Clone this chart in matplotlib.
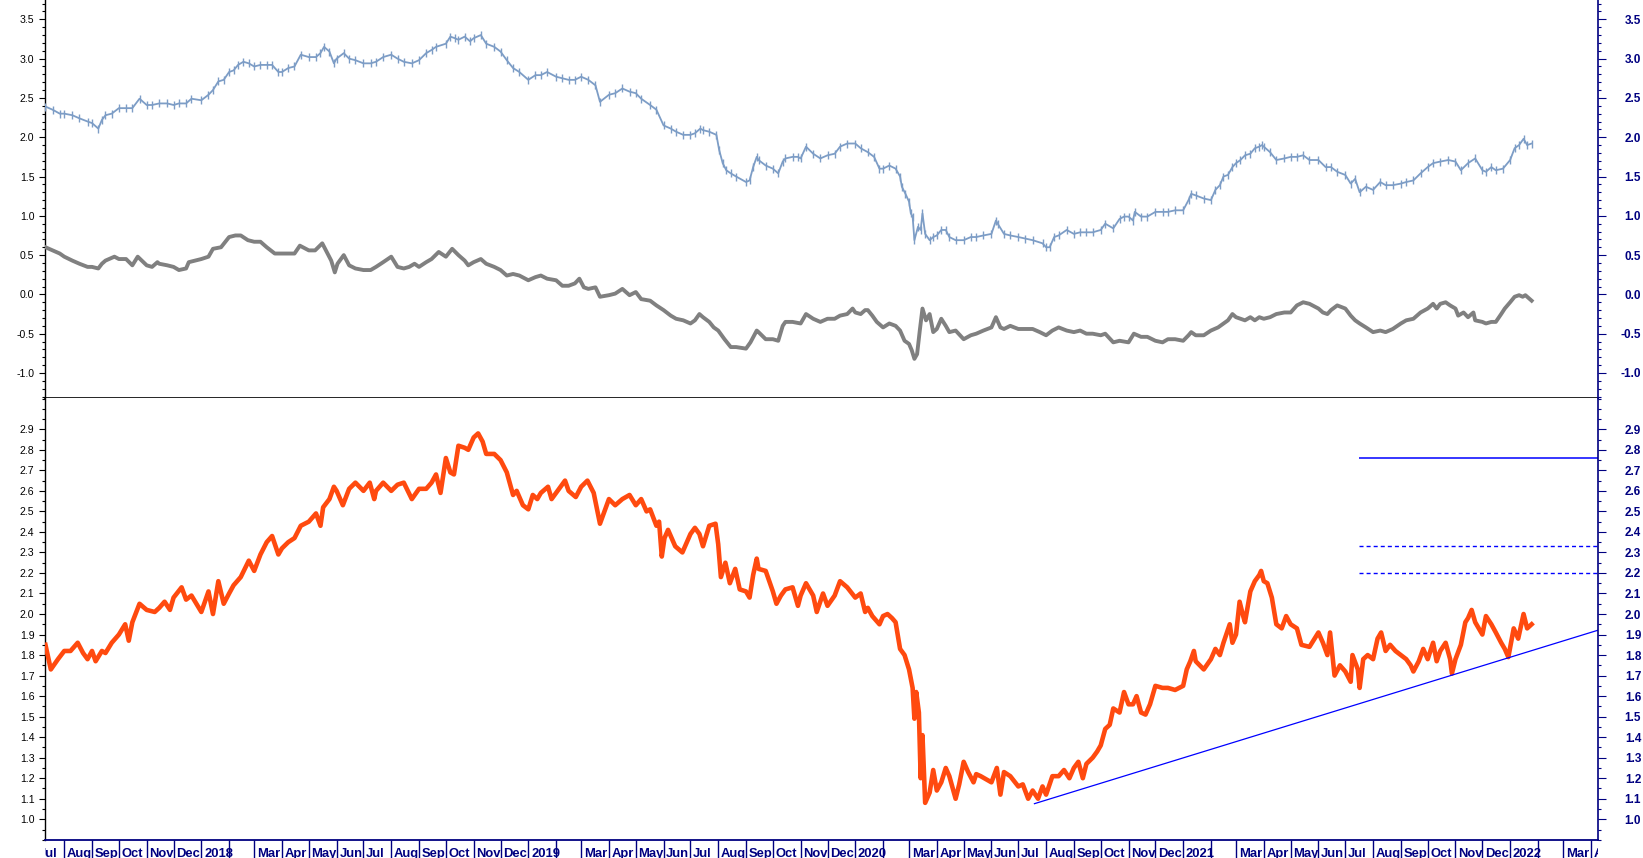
import numpy as np
import pandas as pd
import matplotlib
matplotlib.use("Agg")
import matplotlib.pyplot as plt
import matplotlib.transforms as mtransforms
from matplotlib.ticker import MultipleLocator

plt.rcParams['font.family'] = ['Liberation Sans', 'DejaVu Sans']

# ---------------- data ----------------
# upper panel, blue high/low bars (mid values)
blue_dates = [
    "2017-07-11", "2017-07-19", "2017-07-27", "2017-08-01", "2017-08-10", "2017-08-18", "2017-08-27", "2017-09-01",
    "2017-09-08", "2017-09-12", "2017-09-16", "2017-09-23", "2017-10-01", "2017-10-09", "2017-10-16", "2017-10-24",
    "2017-11-01", "2017-11-07", "2017-11-15", "2017-11-24", "2017-12-01", "2017-12-07", "2017-12-15", "2017-12-21",
    "2018-01-01", "2018-01-09", "2018-01-14", "2018-01-20", "2018-01-26", "2018-02-01", "2018-02-06", "2018-02-11",
    "2018-02-17", "2018-02-23", "2018-03-01", "2018-03-08", "2018-03-15", "2018-03-21", "2018-03-28", "2018-04-01",
    "2018-04-08", "2018-04-15", "2018-04-22", "2018-05-01", "2018-05-09", "2018-05-14", "2018-05-18", "2018-05-24",
    "2018-05-29", "2018-06-01", "2018-06-09", "2018-06-15", "2018-06-22", "2018-07-01", "2018-07-09", "2018-07-15",
    "2018-07-23", "2018-08-01", "2018-08-08", "2018-08-15", "2018-08-24", "2018-09-01", "2018-09-09", "2018-09-15",
    "2018-09-20", "2018-10-01", "2018-10-06", "2018-10-11", "2018-10-15", "2018-10-22", "2018-10-28", "2018-11-01",
    "2018-11-09", "2018-11-15", "2018-11-24", "2018-12-01", "2018-12-08", "2018-12-15", "2018-12-22", "2019-01-01",
    "2019-01-09", "2019-01-15", "2019-01-22", "2019-02-01", "2019-02-08", "2019-02-15", "2019-02-22", "2019-03-01",
    "2019-03-09", "2019-03-17", "2019-03-22", "2019-04-01", "2019-04-08", "2019-04-16", "2019-04-24", "2019-05-01",
    "2019-05-07", "2019-05-17", "2019-05-24", "2019-06-01", "2019-06-09", "2019-06-15", "2019-06-23", "2019-07-01",
    "2019-07-06", "2019-07-12", "2019-07-15", "2019-07-22", "2019-07-30", "2019-08-02", "2019-08-06", "2019-08-10",
    "2019-08-15", "2019-08-21", "2019-09-01", "2019-09-05", "2019-09-09", "2019-09-13", "2019-09-15", "2019-09-23",
    "2019-10-01", "2019-10-07", "2019-10-12", "2019-10-15", "2019-10-23", "2019-10-29", "2019-11-01", "2019-11-07",
    "2019-11-15", "2019-11-23", "2019-12-01", "2019-12-09", "2019-12-15", "2019-12-23", "2020-01-01", "2020-01-07",
    "2020-01-15", "2020-01-22", "2020-01-28", "2020-02-01", "2020-02-08", "2020-02-15", "2020-02-20", "2020-02-22",
    "2020-02-26", "2020-03-01", "2020-03-03", "2020-03-05", "2020-03-07", "2020-03-11", "2020-03-14", "2020-03-16",
    "2020-03-19", "2020-03-24", "2020-03-28", "2020-04-01", "2020-04-06", "2020-04-11", "2020-04-15", "2020-04-22",
    "2020-05-01", "2020-05-09", "2020-05-15", "2020-05-23", "2020-06-01", "2020-06-06", "2020-06-08", "2020-06-15",
    "2020-06-22", "2020-07-01", "2020-07-09", "2020-07-17", "2020-07-28", "2020-08-01", "2020-08-05", "2020-08-10",
    "2020-08-15", "2020-08-24", "2020-09-01", "2020-09-08", "2020-09-15", "2020-09-22", "2020-10-01", "2020-10-06",
    "2020-10-15", "2020-10-22", "2020-10-27", "2020-11-01", "2020-11-06", "2020-11-08", "2020-11-15", "2020-11-22",
    "2020-12-01", "2020-12-09", "2020-12-15", "2020-12-23", "2021-01-01", "2021-01-07", "2021-01-10", "2021-01-15",
    "2021-01-24", "2021-02-01", "2021-02-06", "2021-02-11", "2021-02-15", "2021-02-20", "2021-02-25", "2021-03-01",
    "2021-03-06", "2021-03-11", "2021-03-17", "2021-03-22", "2021-03-27", "2021-03-30", "2021-04-01", "2021-04-08",
    "2021-04-15", "2021-04-24", "2021-05-01", "2021-05-08", "2021-05-15", "2021-05-22", "2021-06-01", "2021-06-09",
    "2021-06-15", "2021-06-22", "2021-07-01", "2021-07-07", "2021-07-12", "2021-07-17", "2021-07-24", "2021-08-01",
    "2021-08-09", "2021-08-15", "2021-08-23", "2021-09-01", "2021-09-07", "2021-09-15", "2021-09-23", "2021-10-01",
    "2021-10-07", "2021-10-15", "2021-10-24", "2021-11-01", "2021-11-07", "2021-11-15", "2021-11-23", "2021-12-01",
    "2021-12-05", "2021-12-11", "2021-12-16", "2021-12-24", "2022-01-01", "2022-01-06", "2022-01-11", "2022-01-16",
    "2022-01-20", "2022-01-25",
]
blue_vals = [
    2.39, 2.35, 2.30, 2.30, 2.28, 2.24, 2.20, 2.18, 2.11, 2.22, 2.28, 2.30, 2.37, 2.37, 2.37, 2.49,
    2.41, 2.41, 2.43, 2.43, 2.41, 2.43, 2.43, 2.49, 2.47, 2.54, 2.60, 2.71, 2.73, 2.83, 2.85, 2.92,
    2.96, 2.94, 2.90, 2.92, 2.92, 2.92, 2.83, 2.83, 2.88, 2.90, 3.05, 3.02, 3.02, 3.07, 3.15, 3.09,
    2.94, 3.00, 3.07, 3.00, 2.98, 2.94, 2.94, 2.96, 3.02, 3.05, 3.00, 2.96, 2.94, 2.98, 3.07, 3.11,
    3.15, 3.19, 3.28, 3.26, 3.24, 3.28, 3.22, 3.26, 3.30, 3.19, 3.15, 3.09, 2.98, 2.88, 2.83, 2.73,
    2.79, 2.79, 2.83, 2.77, 2.75, 2.73, 2.73, 2.77, 2.73, 2.66, 2.45, 2.54, 2.56, 2.62, 2.58, 2.56,
    2.49, 2.41, 2.35, 2.15, 2.11, 2.07, 2.03, 2.03, 2.05, 2.11, 2.09, 2.07, 2.03, 1.84, 1.67, 1.58,
    1.54, 1.50, 1.43, 1.45, 1.62, 1.75, 1.71, 1.64, 1.60, 1.54, 1.69, 1.73, 1.75, 1.75, 1.73, 1.88,
    1.79, 1.73, 1.77, 1.79, 1.88, 1.92, 1.92, 1.86, 1.81, 1.75, 1.60, 1.60, 1.64, 1.60, 1.50, 1.37,
    1.28, 1.18, 1.03, 0.99, 0.69, 0.86, 0.82, 1.03, 0.77, 0.69, 0.73, 0.75, 0.82, 0.82, 0.73, 0.69,
    0.69, 0.73, 0.73, 0.75, 0.77, 0.94, 0.90, 0.77, 0.75, 0.73, 0.71, 0.69, 0.65, 0.60, 0.60, 0.73,
    0.75, 0.82, 0.77, 0.79, 0.79, 0.79, 0.82, 0.90, 0.84, 0.96, 0.99, 0.99, 0.94, 1.05, 0.99, 0.99,
    1.05, 1.05, 1.05, 1.07, 1.07, 1.20, 1.28, 1.26, 1.22, 1.20, 1.33, 1.39, 1.50, 1.52, 1.62, 1.67,
    1.71, 1.77, 1.79, 1.86, 1.88, 1.90, 1.88, 1.81, 1.71, 1.73, 1.75, 1.75, 1.77, 1.71, 1.71, 1.62,
    1.62, 1.56, 1.52, 1.41, 1.47, 1.30, 1.37, 1.33, 1.43, 1.39, 1.39, 1.41, 1.43, 1.45, 1.54, 1.62,
    1.67, 1.69, 1.71, 1.69, 1.58, 1.67, 1.73, 1.58, 1.56, 1.62, 1.58, 1.60, 1.71, 1.86, 1.90, 1.98,
    1.90, 1.92,
]

# upper panel, grey line
grey_dates = [
    "2017-07-11", "2017-07-19", "2017-07-27", "2017-08-01", "2017-08-10", "2017-08-18", "2017-08-27", "2017-09-01",
    "2017-09-08", "2017-09-12", "2017-09-16", "2017-09-26", "2017-10-01", "2017-10-09", "2017-10-16", "2017-10-22",
    "2017-11-01", "2017-11-07", "2017-11-13", "2017-11-15", "2017-11-24", "2017-12-01", "2017-12-07", "2017-12-15",
    "2017-12-18", "2018-01-01", "2018-01-09", "2018-01-14", "2018-01-23", "2018-02-01", "2018-02-08", "2018-02-14",
    "2018-02-22", "2018-03-01", "2018-03-08", "2018-03-15", "2018-03-24", "2018-04-01", "2018-04-08", "2018-04-15",
    "2018-04-21", "2018-05-01", "2018-05-08", "2018-05-16", "2018-05-21", "2018-05-26", "2018-05-30", "2018-06-02",
    "2018-06-09", "2018-06-15", "2018-06-22", "2018-07-01", "2018-07-09", "2018-07-15", "2018-07-23", "2018-08-01",
    "2018-08-08", "2018-08-15", "2018-08-21", "2018-08-27", "2018-09-01", "2018-09-09", "2018-09-15", "2018-09-23",
    "2018-10-01", "2018-10-08", "2018-10-15", "2018-10-22", "2018-10-26", "2018-11-01", "2018-11-09", "2018-11-15",
    "2018-11-24", "2018-12-01", "2018-12-08", "2018-12-15", "2018-12-22", "2019-01-01", "2019-01-09", "2019-01-15",
    "2019-01-22", "2019-02-01", "2019-02-08", "2019-02-15", "2019-02-22", "2019-02-27", "2019-03-04", "2019-03-09",
    "2019-03-17", "2019-03-22", "2019-04-01", "2019-04-08", "2019-04-16", "2019-04-24", "2019-05-01", "2019-05-07",
    "2019-05-17", "2019-05-24", "2019-06-01", "2019-06-09", "2019-06-15", "2019-06-23", "2019-07-01", "2019-07-06",
    "2019-07-11", "2019-07-15", "2019-07-22", "2019-07-27", "2019-08-01", "2019-08-08", "2019-08-15", "2019-08-21",
    "2019-09-01", "2019-09-06", "2019-09-13", "2019-09-15", "2019-09-23", "2019-10-01", "2019-10-07", "2019-10-12",
    "2019-10-15", "2019-10-23", "2019-11-01", "2019-11-07", "2019-11-15", "2019-11-23", "2019-12-01", "2019-12-09",
    "2019-12-15", "2019-12-23", "2019-12-29", "2020-01-01", "2020-01-07", "2020-01-12", "2020-01-15", "2020-01-20",
    "2020-01-25", "2020-02-01", "2020-02-08", "2020-02-15", "2020-02-20", "2020-02-25", "2020-03-01", "2020-03-04",
    "2020-03-07", "2020-03-10", "2020-03-13", "2020-03-16", "2020-03-20", "2020-03-24", "2020-03-28", "2020-04-01",
    "2020-04-06", "2020-04-11", "2020-04-15", "2020-04-22", "2020-05-01", "2020-05-09", "2020-05-15", "2020-05-23",
    "2020-06-01", "2020-06-06", "2020-06-11", "2020-06-15", "2020-06-22", "2020-07-01", "2020-07-09", "2020-07-17",
    "2020-07-25", "2020-08-01", "2020-08-08", "2020-08-15", "2020-08-24", "2020-09-01", "2020-09-08", "2020-09-15",
    "2020-09-22", "2020-10-01", "2020-10-06", "2020-10-15", "2020-10-22", "2020-11-01", "2020-11-07", "2020-11-15",
    "2020-11-22", "2020-12-01", "2020-12-09", "2020-12-15", "2020-12-23", "2021-01-01", "2021-01-07", "2021-01-10",
    "2021-01-15", "2021-01-24", "2021-02-01", "2021-02-09", "2021-02-15", "2021-02-20", "2021-02-25", "2021-03-01",
    "2021-03-06", "2021-03-11", "2021-03-17", "2021-03-22", "2021-03-27", "2021-04-01", "2021-04-08", "2021-04-15",
    "2021-04-24", "2021-05-01", "2021-05-08", "2021-05-15", "2021-05-22", "2021-06-01", "2021-06-06", "2021-06-11",
    "2021-06-15", "2021-06-22", "2021-07-01", "2021-07-07", "2021-07-12", "2021-07-17", "2021-07-24", "2021-08-01",
    "2021-08-09", "2021-08-15", "2021-08-23", "2021-09-01", "2021-09-07", "2021-09-15", "2021-09-23", "2021-10-01",
    "2021-10-07", "2021-10-11", "2021-10-15", "2021-10-21", "2021-10-26", "2021-11-01", "2021-11-04", "2021-11-10",
    "2021-11-15", "2021-11-21", "2021-11-23", "2021-12-01", "2021-12-05", "2021-12-11", "2021-12-16", "2021-12-22",
    "2021-12-26", "2022-01-01", "2022-01-06", "2022-01-11", "2022-01-15", "2022-01-18", "2022-01-25",
]
grey_vals = [
    0.60, 0.56, 0.52, 0.48, 0.43, 0.39, 0.35, 0.35, 0.33, 0.39, 0.43, 0.48, 0.45, 0.45, 0.37, 0.48,
    0.37, 0.35, 0.41, 0.39, 0.37, 0.35, 0.31, 0.33, 0.41, 0.45, 0.48, 0.58, 0.60, 0.73, 0.75, 0.75,
    0.69, 0.67, 0.67, 0.60, 0.52, 0.52, 0.52, 0.52, 0.62, 0.56, 0.56, 0.65, 0.54, 0.43, 0.28, 0.39,
    0.50, 0.37, 0.33, 0.31, 0.31, 0.35, 0.41, 0.48, 0.35, 0.33, 0.35, 0.39, 0.35, 0.41, 0.45, 0.54,
    0.48, 0.58, 0.50, 0.43, 0.37, 0.41, 0.45, 0.39, 0.35, 0.31, 0.24, 0.26, 0.24, 0.18, 0.22, 0.24,
    0.20, 0.18, 0.11, 0.11, 0.14, 0.20, 0.09, 0.07, 0.09, -0.03, -0.01, 0.01, 0.07, -0.01, 0.03, -0.06,
    -0.08, -0.14, -0.20, -0.27, -0.31, -0.33, -0.37, -0.33, -0.25, -0.29, -0.35, -0.42, -0.46, -0.57, -0.67, -0.67,
    -0.69, -0.61, -0.46, -0.48, -0.57, -0.57, -0.59, -0.40, -0.35, -0.35, -0.37, -0.25, -0.31, -0.35, -0.31, -0.31,
    -0.27, -0.25, -0.18, -0.23, -0.25, -0.20, -0.20, -0.27, -0.35, -0.42, -0.37, -0.40, -0.46, -0.59, -0.63, -0.71,
    -0.82, -0.76, -0.46, -0.18, -0.33, -0.25, -0.48, -0.44, -0.31, -0.40, -0.48, -0.46, -0.57, -0.52, -0.50, -0.46,
    -0.42, -0.29, -0.42, -0.44, -0.40, -0.44, -0.44, -0.44, -0.48, -0.52, -0.46, -0.42, -0.46, -0.48, -0.46, -0.50,
    -0.50, -0.52, -0.50, -0.61, -0.59, -0.61, -0.50, -0.54, -0.54, -0.59, -0.61, -0.57, -0.57, -0.59, -0.52, -0.48,
    -0.52, -0.52, -0.46, -0.42, -0.37, -0.33, -0.25, -0.29, -0.31, -0.33, -0.29, -0.33, -0.29, -0.31, -0.29, -0.25,
    -0.23, -0.23, -0.14, -0.10, -0.12, -0.18, -0.23, -0.25, -0.20, -0.14, -0.18, -0.27, -0.33, -0.37, -0.42, -0.48,
    -0.46, -0.48, -0.44, -0.37, -0.33, -0.31, -0.23, -0.18, -0.12, -0.18, -0.12, -0.10, -0.14, -0.18, -0.27, -0.23,
    -0.29, -0.23, -0.33, -0.35, -0.37, -0.35, -0.35, -0.25, -0.18, -0.10, -0.03, -0.01, -0.03, -0.01, -0.08,
]

# lower panel, orange line
orange_dates = [
    "2017-07-11", "2017-07-17", "2017-07-25", "2017-08-01", "2017-08-08", "2017-08-16", "2017-08-22", "2017-08-27",
    "2017-09-01", "2017-09-05", "2017-09-12", "2017-09-16", "2017-09-23", "2017-10-01", "2017-10-08", "2017-10-12",
    "2017-10-16", "2017-10-24", "2017-11-01", "2017-11-10", "2017-11-15", "2017-11-21", "2017-11-27", "2017-12-01",
    "2017-12-10", "2017-12-15", "2017-12-21", "2018-01-01", "2018-01-09", "2018-01-14", "2018-01-20", "2018-01-26",
    "2018-02-01", "2018-02-06", "2018-02-14", "2018-02-23", "2018-03-01", "2018-03-08", "2018-03-15", "2018-03-21",
    "2018-03-28", "2018-04-01", "2018-04-08", "2018-04-15", "2018-04-22", "2018-05-01", "2018-05-09", "2018-05-14",
    "2018-05-17", "2018-05-24", "2018-05-29", "2018-06-01", "2018-06-08", "2018-06-15", "2018-06-22", "2018-07-01",
    "2018-07-08", "2018-07-13", "2018-07-15", "2018-07-23", "2018-08-01", "2018-08-08", "2018-08-15", "2018-08-24",
    "2018-09-01", "2018-09-09", "2018-09-15", "2018-09-20", "2018-09-25", "2018-10-01", "2018-10-06", "2018-10-10",
    "2018-10-15", "2018-10-22", "2018-10-26", "2018-11-01", "2018-11-06", "2018-11-11", "2018-11-15", "2018-11-24",
    "2018-12-01", "2018-12-08", "2018-12-15", "2018-12-19", "2018-12-26", "2019-01-01", "2019-01-06", "2019-01-11",
    "2019-01-15", "2019-01-23", "2019-01-27", "2019-02-01", "2019-02-11", "2019-02-15", "2019-02-23", "2019-03-01",
    "2019-03-08", "2019-03-15", "2019-03-22", "2019-04-01", "2019-04-08", "2019-04-16", "2019-04-24", "2019-05-01",
    "2019-05-07", "2019-05-13", "2019-05-17", "2019-05-24", "2019-05-27", "2019-05-30", "2019-06-02", "2019-06-06",
    "2019-06-14", "2019-06-22", "2019-07-01", "2019-07-06", "2019-07-11", "2019-07-15", "2019-07-22", "2019-07-29",
    "2019-08-01", "2019-08-04", "2019-08-09", "2019-08-14", "2019-08-20", "2019-08-25", "2019-09-01", "2019-09-05",
    "2019-09-09", "2019-09-13", "2019-09-15", "2019-09-23", "2019-10-01", "2019-10-05", "2019-10-10", "2019-10-15",
    "2019-10-23", "2019-10-29", "2019-11-01", "2019-11-07", "2019-11-15", "2019-11-19", "2019-11-26", "2019-12-01",
    "2019-12-09", "2019-12-15", "2019-12-23", "2020-01-01", "2020-01-07", "2020-01-12", "2020-01-15", "2020-01-20",
    "2020-01-28", "2020-02-01", "2020-02-06", "2020-02-11", "2020-02-15", "2020-02-20", "2020-02-25", "2020-03-01",
    "2020-03-05", "2020-03-07", "2020-03-09", "2020-03-12", "2020-03-14", "2020-03-16", "2020-03-19", "2020-03-24",
    "2020-03-28", "2020-04-01", "2020-04-06", "2020-04-11", "2020-04-15", "2020-04-22", "2020-04-26", "2020-05-01",
    "2020-05-06", "2020-05-12", "2020-05-15", "2020-05-20", "2020-06-01", "2020-06-07", "2020-06-11", "2020-06-15",
    "2020-06-22", "2020-07-01", "2020-07-06", "2020-07-12", "2020-07-17", "2020-07-23", "2020-07-28", "2020-08-01",
    "2020-08-08", "2020-08-15", "2020-08-21", "2020-08-27", "2020-09-01", "2020-09-06", "2020-09-11", "2020-09-15",
    "2020-09-22", "2020-09-27", "2020-10-01", "2020-10-06", "2020-10-11", "2020-10-15", "2020-10-22", "2020-10-27",
    "2020-11-01", "2020-11-06", "2020-11-10", "2020-11-15", "2020-11-20", "2020-11-25", "2020-12-01", "2020-12-09",
    "2020-12-15", "2020-12-23", "2021-01-01", "2021-01-05", "2021-01-09", "2021-01-13", "2021-01-15", "2021-01-24",
    "2021-02-01", "2021-02-06", "2021-02-11", "2021-02-15", "2021-02-22", "2021-02-25", "2021-03-01", "2021-03-05",
    "2021-03-09", "2021-03-11", "2021-03-17", "2021-03-22", "2021-03-27", "2021-03-29", "2021-04-01", "2021-04-05",
    "2021-04-10", "2021-04-15", "2021-04-21", "2021-04-26", "2021-05-01", "2021-05-08", "2021-05-13", "2021-05-22",
    "2021-06-01", "2021-06-06", "2021-06-11", "2021-06-14", "2021-06-19", "2021-06-25", "2021-07-01", "2021-07-07",
    "2021-07-09", "2021-07-15", "2021-07-17", "2021-07-21", "2021-07-26", "2021-08-01", "2021-08-06", "2021-08-10",
    "2021-08-15", "2021-08-20", "2021-08-26", "2021-09-01", "2021-09-07", "2021-09-12", "2021-09-15", "2021-09-21",
    "2021-09-26", "2021-10-01", "2021-10-07", "2021-10-11", "2021-10-15", "2021-10-21", "2021-10-26", "2021-10-28",
    "2021-11-01", "2021-11-07", "2021-11-12", "2021-11-15", "2021-11-19", "2021-11-23", "2021-12-01", "2021-12-05",
    "2021-12-11", "2021-12-16", "2021-12-22", "2021-12-26", "2021-12-30", "2022-01-05", "2022-01-10", "2022-01-16",
    "2022-01-20", "2022-01-25",
]
orange_vals = [
    1.85, 1.73, 1.78, 1.82, 1.82, 1.86, 1.81, 1.78, 1.82, 1.77, 1.82, 1.81, 1.86, 1.90, 1.95, 1.87,
    1.96, 2.05, 2.02, 2.01, 2.03, 2.06, 2.02, 2.08, 2.13, 2.07, 2.09, 2.01, 2.11, 2.00, 2.16, 2.05,
    2.10, 2.14, 2.18, 2.26, 2.21, 2.29, 2.35, 2.38, 2.29, 2.32, 2.35, 2.37, 2.43, 2.45, 2.49, 2.43,
    2.52, 2.56, 2.62, 2.60, 2.53, 2.61, 2.64, 2.60, 2.64, 2.56, 2.60, 2.64, 2.60, 2.63, 2.64, 2.56,
    2.61, 2.61, 2.64, 2.68, 2.59, 2.76, 2.69, 2.68, 2.82, 2.81, 2.80, 2.86, 2.88, 2.84, 2.78, 2.78,
    2.75, 2.69, 2.58, 2.60, 2.53, 2.51, 2.58, 2.56, 2.59, 2.62, 2.56, 2.59, 2.65, 2.60, 2.57, 2.62,
    2.65, 2.59, 2.44, 2.56, 2.53, 2.56, 2.58, 2.53, 2.56, 2.50, 2.51, 2.43, 2.45, 2.28, 2.37, 2.41,
    2.33, 2.30, 2.39, 2.42, 2.39, 2.33, 2.43, 2.44, 2.34, 2.18, 2.25, 2.15, 2.22, 2.12, 2.11, 2.08,
    2.19, 2.27, 2.22, 2.21, 2.11, 2.05, 2.09, 2.12, 2.13, 2.04, 2.09, 2.15, 2.09, 2.01, 2.10, 2.04,
    2.09, 2.16, 2.13, 2.08, 2.10, 2.01, 2.03, 1.99, 1.95, 1.99, 2.00, 1.98, 1.96, 1.83, 1.80, 1.73,
    1.64, 1.49, 1.62, 1.52, 1.20, 1.41, 1.08, 1.13, 1.24, 1.14, 1.18, 1.25, 1.21, 1.10, 1.17, 1.28,
    1.23, 1.18, 1.22, 1.21, 1.18, 1.25, 1.12, 1.23, 1.21, 1.16, 1.17, 1.10, 1.14, 1.10, 1.16, 1.12,
    1.21, 1.21, 1.24, 1.20, 1.25, 1.28, 1.20, 1.27, 1.30, 1.33, 1.36, 1.44, 1.46, 1.54, 1.52, 1.62,
    1.56, 1.56, 1.60, 1.52, 1.51, 1.56, 1.65, 1.64, 1.64, 1.63, 1.65, 1.73, 1.77, 1.82, 1.77, 1.73,
    1.78, 1.83, 1.80, 1.86, 1.95, 1.86, 1.90, 2.06, 1.99, 1.96, 2.11, 2.16, 2.19, 2.21, 2.16, 2.15,
    2.08, 1.95, 1.93, 1.99, 1.95, 1.93, 1.85, 1.84, 1.91, 1.86, 1.80, 1.91, 1.70, 1.75, 1.72, 1.67,
    1.80, 1.73, 1.64, 1.78, 1.80, 1.78, 1.88, 1.91, 1.82, 1.85, 1.82, 1.80, 1.78, 1.75, 1.72, 1.77,
    1.83, 1.78, 1.86, 1.77, 1.82, 1.86, 1.78, 1.71, 1.78, 1.85, 1.96, 1.98, 2.02, 1.96, 1.90, 1.99,
    1.95, 1.91, 1.86, 1.83, 1.79, 1.93, 1.88, 2.00, 1.93, 1.95,
]

# support line and horizontal levels in the lower panel
trend_dates = ["2020-07-19", "2022-04-09"]
trend_vals = [1.076, 1.921]
level_start = "2021-07-16"
level_solid = 2.759
levels_dotted = [2.333, 2.202]

x_start, x_end = "2017-07-10 12:00", "2022-04-09 10:00"
top_ticks = [-1.0, -0.5, 0.0, 0.5, 1.0, 1.5, 2.0, 2.5, 3.0, 3.5]
bot_ticks = [1.0, 1.1, 1.2, 1.3, 1.4, 1.5, 1.6, 1.7, 1.8, 1.9, 2.0, 2.1, 2.2, 2.3, 2.4, 2.5, 2.6, 2.7, 2.8, 2.9]

# ---------------- styling ----------------
NAVY = '#000080'
BLUE = '#7d9dc6'
GREY = '#808080'
ORANGE = '#ff4a0f'
LINE_BLUE = '#0000ff'

W, H = 1643, 858
fig = plt.figure(figsize=(W / 100, H / 100), dpi=100)
left, right = 45 / W, 1598.3 / W
sep, bottom = 398.3, 840.0
ax_top = fig.add_axes([left, 1 - sep / H, right - left, sep / H])
ax_bot = fig.add_axes([left, 1 - bottom / H, right - left, (bottom - sep) / H], sharex=ax_top)
ax_dates = fig.add_axes([left, 0, right - left, (H - bottom) / H], sharex=ax_top)

xs = pd.to_datetime(x_start)
xe = pd.to_datetime(x_end)


def style_panel(ax, ylim, ticks, minor):
    ax.set_ylim(*ylim)
    ax.set_xlim(xs, xe)
    for s in ['top', 'right']:
        ax.spines[s].set_visible(False)
    ax.spines['left'].set_color('black')
    ax.spines['left'].set_linewidth(1.0)
    ax.set_yticks(ticks)
    ax.set_yticklabels([f"{t:.1f}" for t in ticks])
    ax.yaxis.set_minor_locator(MultipleLocator(minor))
    ax.tick_params(axis='y', which='major', direction='out', length=4.2, width=0.8,
                   color='black', labelsize=7.6, labelcolor='black', pad=3.4)
    ax.tick_params(axis='y', which='minor', direction='out', length=2.0, width=0.8, color='black')
    ax.tick_params(axis='x', which='both', bottom=False, labelbottom=False)

    tw = ax.twinx()
    tw.set_ylim(*ylim)
    for s in ['top', 'left', 'bottom']:
        tw.spines[s].set_visible(False)
    tw.spines['right'].set_color(NAVY)
    tw.spines['right'].set_linewidth(1.2)
    tw.set_yticks(ticks)
    tw.set_yticklabels([f"{t:.1f}" for t in ticks], ha='right', fontweight='bold')
    tw.yaxis.set_minor_locator(MultipleLocator(minor))
    tw.tick_params(axis='y', which='major', direction='out', length=5.4, width=0.8,
                   color=NAVY, labelsize=8.5, labelcolor=NAVY, pad=25.5)
    tw.tick_params(axis='y', which='minor', direction='out', length=2.4, width=0.8, color=NAVY)
    return tw


style_panel(ax_top, (-1.322, 3.746), top_ticks, 0.1)
style_panel(ax_bot, (0.899, 3.051), bot_ticks, 0.05)
ax_top.spines['bottom'].set_color('black')
ax_top.spines['bottom'].set_linewidth(1.2)
ax_bot.spines['bottom'].set_color(NAVY)
ax_bot.spines['bottom'].set_linewidth(1.3)

# upper panel
ax_top.plot(pd.to_datetime(blue_dates), blue_vals, color=BLUE, lw=1.3,
            marker='|', ms=6, mew=1.0, zorder=3)
ax_top.plot(pd.to_datetime(grey_dates), grey_vals, color=GREY, lw=2.8,
            solid_joinstyle='round', zorder=3)

# lower panel
ax_bot.plot(pd.to_datetime(orange_dates), orange_vals, color=ORANGE, lw=3.3,
            solid_joinstyle='round', zorder=3)
ax_bot.plot(pd.to_datetime(trend_dates), trend_vals, color=LINE_BLUE, lw=0.9, zorder=4)
ls = pd.to_datetime(level_start)
ax_bot.hlines(level_solid, ls, xe, color=LINE_BLUE, lw=1.1, zorder=4)
ax_bot.hlines(levels_dotted, ls, xe, color=LINE_BLUE, lw=1.0,
              linestyles=(0, (2.9, 2.2)), zorder=4)

# month strip under the lower panel
ax_dates.set_xlim(xs, xe)
ax_dates.set_ylim(0, 1)
ax_dates.set_axis_off()
months = pd.date_range("2017-07-01", "2022-04-01", freq="MS")
ax_dates.vlines(months, 0, 1, color=NAVY, lw=1.0)
offset = mtransforms.ScaledTranslation(2.7 / 100, 0, fig.dpi_scale_trans)
trans = ax_dates.transData + offset
for m in months:
    if m.month == 1:
        lbl = str(m.year)
    elif m.month == 2:
        lbl = ""
    else:
        lbl = m.strftime("%b")
    if lbl:
        ax_dates.text(m, 0.06, lbl, transform=trans, ha='left', va='baseline',
                      fontsize=9.4, fontweight='bold', color=NAVY, clip_on=True)

fig.savefig("out.png", dpi=100)
